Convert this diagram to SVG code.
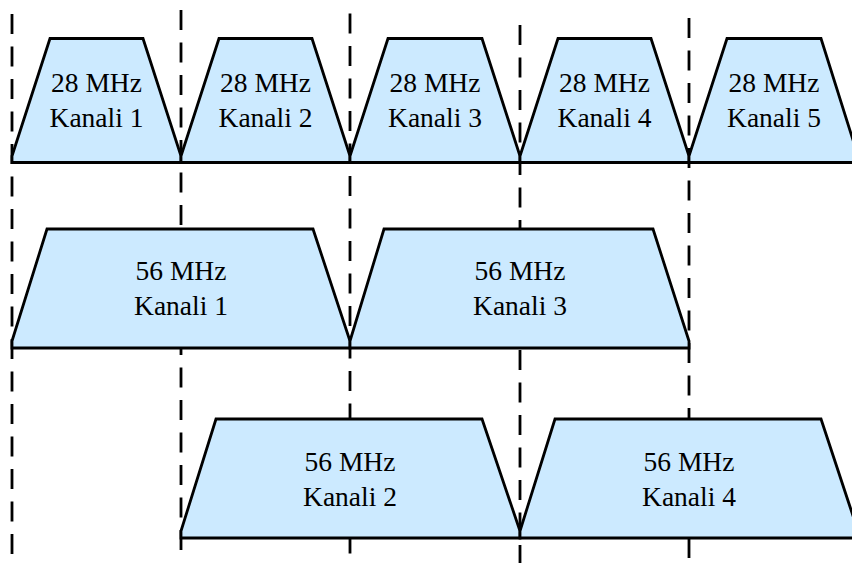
<svg xmlns="http://www.w3.org/2000/svg" width="852" height="563" viewBox="0 0 852 563">
<style>
.grid{stroke:#000;stroke-width:2.8;stroke-dasharray:20 12.5;fill:none}
.band{fill:#cceaff;stroke:#000;stroke-width:2.8;stroke-linejoin:miter}
.lbl{font-family:"Liberation Serif","Times New Roman",serif;font-size:27.5px;fill:#000;text-anchor:middle}
</style>
<rect width="852" height="563" fill="#fff"/>
<g id="connectors">
<line class="grid" x1="12" y1="14" x2="12" y2="556"/>
<line class="grid" x1="181" y1="10" x2="181" y2="550"/>
<line class="grid" x1="350" y1="13.5" x2="350" y2="554"/>
<line class="grid" x1="520" y1="25" x2="520" y2="563"/>
<line class="grid" x1="689" y1="18" x2="689" y2="558"/>
</g>
<g id="ch28-1">
<path class="band" d="M12,162.5 L12,156 L50,38.5 L143,38.5 L181,156 L181,162.5 Z"/>
<text class="lbl" x="96.5" y="92">28 MHz</text>
<text class="lbl" x="96.5" y="127">Kanali 1</text>
</g>
<g id="ch28-2">
<path class="band" d="M181,162.5 L181,156 L219,38.5 L312,38.5 L350,156 L350,162.5 Z"/>
<text class="lbl" x="265.5" y="92">28 MHz</text>
<text class="lbl" x="265.5" y="127">Kanali 2</text>
</g>
<g id="ch28-3">
<path class="band" d="M350,162.5 L350,156 L388,38.5 L482,38.5 L520,156 L520,162.5 Z"/>
<text class="lbl" x="435" y="92">28 MHz</text>
<text class="lbl" x="435" y="127">Kanali 3</text>
</g>
<g id="ch28-4">
<path class="band" d="M520,162.5 L520,156 L558,38.5 L651,38.5 L689,156 L689,162.5 Z"/>
<text class="lbl" x="604.5" y="92">28 MHz</text>
<text class="lbl" x="604.5" y="127">Kanali 4</text>
</g>
<g id="ch28-5">
<path class="band" d="M689,162.5 L689,156 L727,38.5 L821,38.5 L858,156 L858,162.5 Z"/>
<text class="lbl" x="774" y="92">28 MHz</text>
<text class="lbl" x="774" y="127">Kanali 5</text>
</g>
<g id="ch56-1">
<path class="band" d="M12,348 L12,341 L47,229 L313,229 L350,341 L350,348 Z"/>
<text class="lbl" x="181" y="280">56 MHz</text>
<text class="lbl" x="181" y="315">Kanali 1</text>
</g>
<g id="ch56-3">
<path class="band" d="M350,348 L350,341 L384,229 L653,229 L689,341 L689,348 Z"/>
<text class="lbl" x="520" y="280">56 MHz</text>
<text class="lbl" x="520" y="315">Kanali 3</text>
</g>
<g id="ch56-2">
<path class="band" d="M181,538 L181,531 L216,419 L482,419 L520,531 L520,538 Z"/>
<text class="lbl" x="350" y="471">56 MHz</text>
<text class="lbl" x="350" y="506">Kanali 2</text>
</g>
<g id="ch56-4">
<path class="band" d="M520,538 L520,531 L555,419 L821,419 L858,531 L858,538 Z"/>
<text class="lbl" x="689" y="471">56 MHz</text>
<text class="lbl" x="689" y="506">Kanali 4</text>
</g>
</svg>
